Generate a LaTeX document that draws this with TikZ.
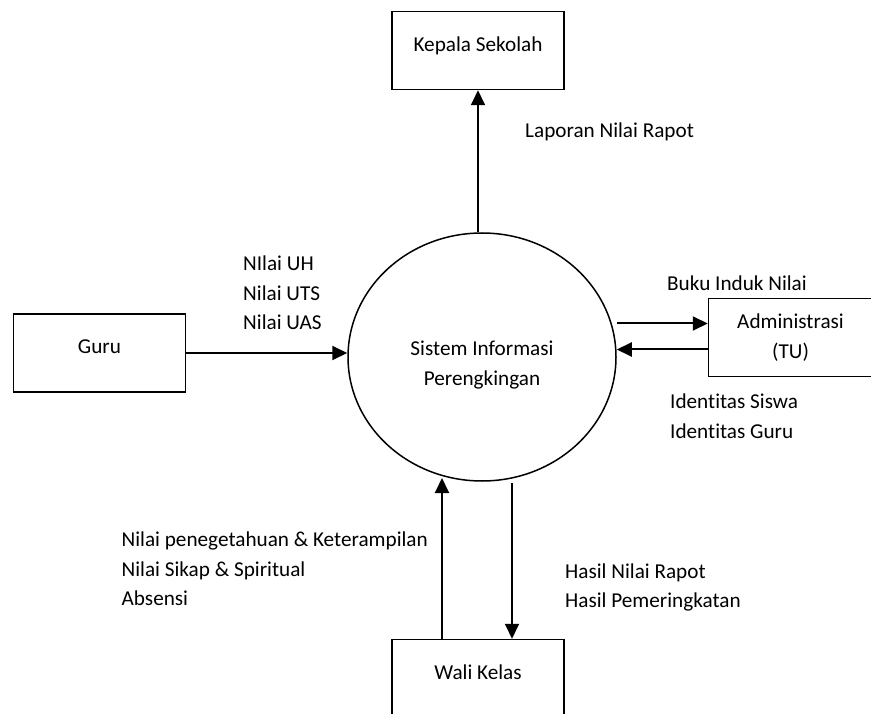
\documentclass[tikz,border=0pt]{standalone}
\usepackage{fontspec}
\setmainfont{Carlito}[Ligatures=NoCommon]
\usetikzlibrary{shapes.geometric}
\usetikzlibrary{arrows.meta}
\usetikzlibrary{positioning}
\tikzstyle{kotak} = [rectangle, minimum width=172pt, minimum height=78pt, text centered, draw=black,
line width=1.6pt]
\tikzstyle{entitas} = [kotak, text height=15pt, text depth=13pt]
\tikzstyle{proses} = [ellipse, minimum width=268pt, minimum height=248pt, draw=black, line width=1.5pt]
\tikzstyle{arrow} = [line width=2pt,-{Triangle[length=15pt,width=14pt]}]
\tikzstyle{aliran} = [align=left, inner sep=0pt, anchor=west]

\begin{document}
\begin{tikzpicture}[x=1pt, y=-1pt, font=\fontsize{21.2}{29.5}\selectfont]
  \useasboundingbox (0,0) rectangle (871,714);
  \node (sistem) [proses] at (482,357) {};
  \node (judul) [align=center] at ([yshift=-8pt]sistem.center) {Sistem Informasi\\Perengkingan};
  \node (kepala) [entitas, above=142pt of sistem, xshift=-4pt] {Kepala Sekolah};
  \node (guru) [entitas, left=161pt of sistem, yshift=4pt] {Guru};
  \node (admin) [kotak, right=91pt of sistem, yshift=19.5pt, minimum width=164pt, align=center] {Administrasi\\(TU)};
  \node (wali) [entitas, below=157pt of sistem, xshift=-4pt] {Wali Kelas};
  % aliran data
  \draw [arrow] (sistem.north -| kepala.south) -- (kepala.south);
  \draw [arrow] (guru.east) -- (guru.east -| sistem.west);
  \draw [arrow] ([yshift=14pt]admin.west -| sistem.east) -- ([yshift=14pt]admin.west);
  \draw [arrow] ([yshift=-12pt]admin.west) -- ([yshift=-12pt]admin.west -| sistem.east);
  \coordinate (masuk) at (442,478);
  \coordinate (keluar) at (512,483);
  \draw [arrow] (wali.north -| masuk) -- (masuk);
  \draw [arrow] (keluar) -- (keluar |- wali.north);
  % label
  \node (lapor) [aliran] at (525,132) {Laporan Nilai Rapot};
  \node (nguru) [aliran] at (243,293) {NIlai UH\\Nilai UTS\\Nilai UAS};
  \node (buku) [aliran] at (667,283) {Buku Induk Nilai};
  \node (ident) [aliran] at (670,416) {Identitas Siswa\\Identitas Guru};
  \node (nwali) [aliran, anchor=east] at (428,569) {Nilai penegetahuan \& Keterampilan\\Nilai Sikap \& Spiritual\\Absensi};
  \node (hasil) [aliran] at (565,587.5) {Hasil Nilai Rapot\\Hasil Pemeringkatan};
\end{tikzpicture}
\end{document}
